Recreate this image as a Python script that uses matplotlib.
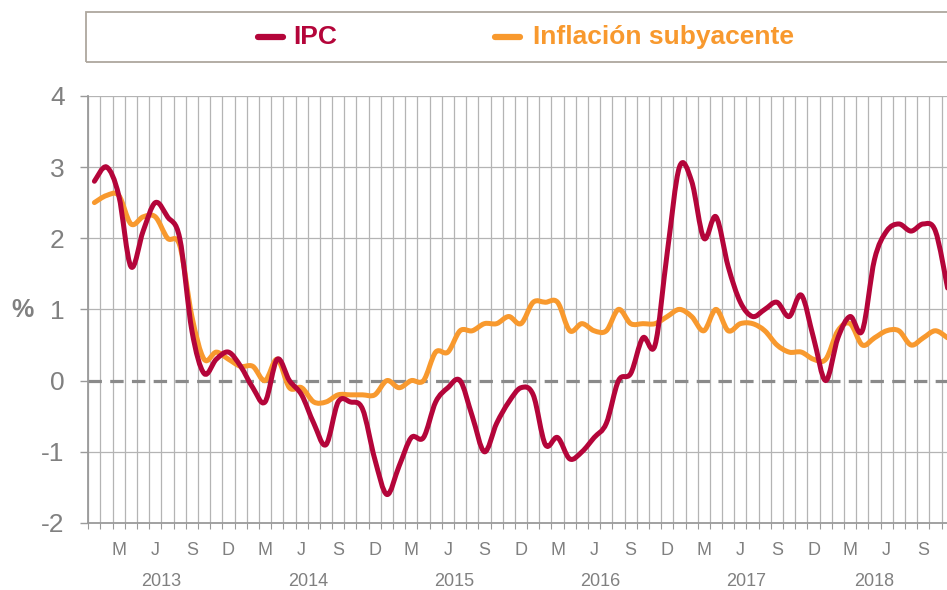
import numpy as np
import matplotlib
matplotlib.use('Agg')
import matplotlib.pyplot as plt
from matplotlib.path import Path
from matplotlib.patches import PathPatch, Rectangle
from matplotlib.lines import Line2D
from matplotlib.transforms import blended_transform_factory

plt.rcParams['font.family'] = ['Liberation Sans', 'DejaVu Sans']
plt.rcParams['axes.unicode_minus'] = False

# monthly data, Jan 2013 .. Nov 2018
ipc = [2.8, 3.0, 2.6, 1.6, 2.1, 2.5, 2.3, 2.0, 0.7, 0.1, 0.3, 0.4,
       0.2, -0.1, -0.3, 0.3, 0.0, -0.2, -0.6, -0.9, -0.3, -0.3, -0.4, -1.1,
       -1.6, -1.2, -0.8, -0.8, -0.3, -0.1, 0.0, -0.5, -1.0, -0.6, -0.3, -0.1,
       -0.2, -0.9, -0.8, -1.1, -1.0, -0.8, -0.6, 0.0, 0.1, 0.6, 0.5, 1.8,
       3.0, 2.8, 2.0, 2.3, 1.6, 1.1, 0.9, 1.0, 1.1, 0.9, 1.2, 0.6,
       0.0, 0.6, 0.9, 0.7, 1.7, 2.1, 2.2, 2.1, 2.2, 2.1, 1.3]
subyacente = [2.5, 2.6, 2.6, 2.2, 2.3, 2.3, 2.0, 1.9, 0.9, 0.3, 0.4, 0.3,
              0.2, 0.2, 0.0, 0.3, -0.1, -0.1, -0.3, -0.3, -0.2, -0.2, -0.2, -0.2,
              0.0, -0.1, 0.0, 0.0, 0.4, 0.4, 0.7, 0.7, 0.8, 0.8, 0.9, 0.8,
              1.1, 1.1, 1.1, 0.7, 0.8, 0.7, 0.7, 1.0, 0.8, 0.8, 0.8, 0.9,
              1.0, 0.9, 0.7, 1.0, 0.7, 0.8, 0.8, 0.7, 0.5, 0.4, 0.4, 0.3,
              0.3, 0.7, 0.8, 0.5, 0.6, 0.7, 0.7, 0.5, 0.6, 0.7, 0.6]
meses = ['M', 'J', 'S', 'D']
anios = ['2013', '2014', '2015', '2016', '2017', '2018']

red = '#B4053A'
orange = '#F8992E'
gray_txt = '#808080'


def smooth_path(xs, ys):
    # bezier curve through the points, like excel's smoothed line
    p = np.column_stack([xs, ys]).astype(float)
    n = len(p)
    verts = [p[0]]
    codes = [Path.MOVETO]
    for i in range(n - 1):
        p0 = p[i - 1] if i > 0 else p[i]
        p3 = p[i + 2] if i + 2 < n else p[i + 1]
        c1 = p[i] + (p[i + 1] - p0) / 6.0
        c2 = p[i + 1] - (p3 - p[i]) / 6.0
        verts += [c1, c2, p[i + 1]]
        codes += [Path.CURVE4] * 3
    return Path(verts, codes)


fig = plt.figure(figsize=(9.47, 5.90), dpi=100)
ax = fig.add_axes([88.3 / 947, 1 - 523 / 590, 1 - 88.3 / 947, (523 - 95.8) / 590])

x = np.arange(len(ipc))
ax.set_xlim(-0.5, 69.95)
ax.set_ylim(-2, 4)

# grid
for xv in np.arange(-0.5, len(ipc) - 1, 1.0):
    ax.axvline(xv, color='#b4b4b4', lw=0.9, zorder=1)
for yv in [-1, 1, 2, 3, 4]:
    ax.axhline(yv, color='#b4b4b4', lw=0.9, zorder=1)
ax.axhline(0, color='#8a8a8a', lw=2.3, dashes=(4.2, 2.6), zorder=2)

for serie, col in [(subyacente, orange), (ipc, red)]:
    patch = PathPatch(smooth_path(x, serie), fill=False, edgecolor=col, lw=3.6,
                      capstyle='round', joinstyle='round', zorder=3)
    ax.add_patch(patch)

for s in ['top', 'right']:
    ax.spines[s].set_visible(False)
for s in ['left', 'bottom']:
    ax.spines[s].set_color('#9a9a9a')
    ax.spines[s].set_linewidth(1.3)

ax.set_yticks(range(-2, 5))
ax.tick_params(axis='y', length=6, width=1.0, color='#9a9a9a', pad=11,
               labelsize=19, labelcolor=gray_txt)

pos = [12 * k + m for k in range(6) for m in (2, 5, 8, 11) if 12 * k + m < len(ipc)]
ax.set_xticks(pos)
ax.set_xticklabels([meses[(p % 12) // 3] for p in pos])
ax.tick_params(axis='x', which='major', length=0, pad=14, labelsize=13, labelcolor=gray_txt)
ax.set_xticks(np.arange(-0.5, len(ipc) - 1, 1.0), minor=True)
ax.tick_params(axis='x', which='minor', length=4, width=0.8, color='#9a9a9a')

trans = blended_transform_factory(ax.transData, fig.transFigure)
anio_pos = [5.5, 17.5, 29.5, 41.5, 53.5, 64.0]
for a, xp in zip(anios, anio_pos):
    fig.text(xp, 1 - 582 / 590, a, transform=trans, ha='center', va='center',
             fontsize=13, color=gray_txt)

fig.text(22 / 947, 1 - 310 / 590, '%', ha='center', va='center', fontsize=18,
         fontweight='bold', color=gray_txt)

# legend box
fig.patches.append(Rectangle((86 / 947, 1 - 62 / 590), 900 / 947, 50 / 590, fill=False,
                             edgecolor='#aea79e', lw=1.3, transform=fig.transFigure))
ly = 1 - 37 / 590
for x0, x1, tx, lab, col in [(258, 283, 293, 'IPC', red),
                             (495, 520, 533, 'Inflación subyacente', orange)]:
    fig.lines.append(Line2D([x0 / 947, x1 / 947], [ly, ly], transform=fig.transFigure,
                            color=col, lw=4.5, solid_capstyle='round'))
    fig.text(tx / 947, ly, lab, ha='left', va='center', fontsize=19,
             fontweight='bold', color=col)

fig.savefig('out.png', dpi=100)
